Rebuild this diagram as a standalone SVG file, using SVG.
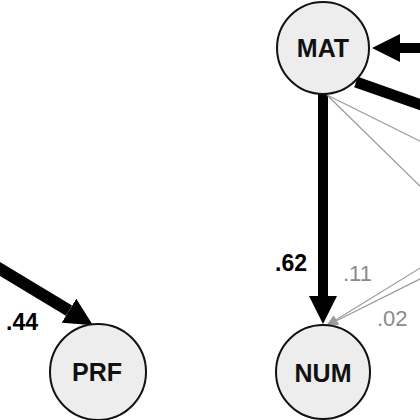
<svg xmlns="http://www.w3.org/2000/svg" width="420" height="420" viewBox="0 0 420 420">
<style>
.node circle{fill:#ededed;stroke:#111;stroke-width:2}
.node text{font-family:"Liberation Sans","Noto Sans",Arial,sans-serif;font-weight:bold;font-size:25px;fill:#111;text-anchor:middle}
.thick{stroke:#000;stroke-width:10;fill:none}
.thin{stroke:#9a9a9a;stroke-width:1.2;fill:none}
.lb{font-family:"Liberation Sans","Noto Sans",Arial,sans-serif;font-weight:bold;font-size:23px;fill:#000}
.lg{font-family:"Liberation Sans","Noto Sans",Arial,sans-serif;font-size:22px;fill:#8a8a8a}
</style>
<defs>
<marker id="big" viewBox="0 0 28 28" markerWidth="28" markerHeight="28" refX="0" refY="14" orient="auto" markerUnits="userSpaceOnUse">
<path d="M0,0 L28,14 L0,28 Z" fill="#000"/>
</marker>
<marker id="small" viewBox="0 0 12 10" markerWidth="12" markerHeight="10" refX="12" refY="5" orient="auto" markerUnits="userSpaceOnUse">
<path d="M0,0 L12,5 L0,10 Z" fill="#9a9a9a"/>
</marker>
</defs>
<g id="connectors">
<line class="thick" x1="430" y1="48" x2="400" y2="48" marker-end="url(#big)"/>
<line class="thick" x1="323" y1="94" x2="323" y2="296" marker-end="url(#big)"/>
<line class="thick" x1="-5" y1="266" x2="69" y2="310.7" marker-end="url(#big)" style="stroke-width:12"/>
<line class="thick" x1="356" y1="82" x2="430" y2="108" style="stroke-width:11"/>
<line class="thin" x1="327" y1="95" x2="430" y2="146"/>
<line class="thin" x1="327" y1="95" x2="430" y2="196"/>
<line class="thin" x1="430" y1="262" x2="326" y2="326" marker-end="url(#small)"/>
<line class="thin" x1="430" y1="274" x2="326" y2="326" marker-end="url(#small)"/>
<text class="lb" x="275" y="271">.62</text>
<text class="lg" x="343" y="281">.11</text>
<text class="lg" x="377" y="326">.02</text>
<text class="lb" x="6" y="330">.44</text>
</g>
<g id="MAT" class="node">
<circle cx="323" cy="48" r="46"/>
<text x="323" y="57">MAT</text>
</g>
<g id="NUM" class="node">
<circle cx="323" cy="372" r="47"/>
<text x="323" y="382">NUM</text>
</g>
<g id="PRF" class="node">
<circle cx="98" cy="372" r="48"/>
<text x="97" y="381">PRF</text>
</g>
</svg>
